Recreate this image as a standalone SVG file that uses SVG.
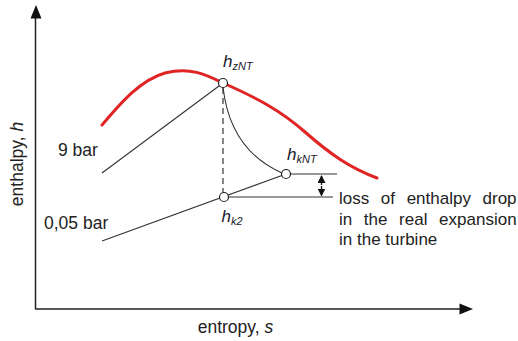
<svg xmlns="http://www.w3.org/2000/svg" width="518" height="341" viewBox="0 0 518 341">
<style>
.t{font-family:"Liberation Sans",Arial,sans-serif;fill:#222}
.lab{font-size:17.5px}
.r{font-size:17px;word-spacing:6.9px}
.h{font-family:"Liberation Sans",Arial,sans-serif;font-style:italic;fill:#1a1a2a;font-size:17px}
.sub{font-size:11px}
.thin{fill:none;stroke:#333;stroke-width:1.1}
.ax{fill:none;stroke:#222;stroke-width:1.5}
.pt{fill:#fff;stroke:#222;stroke-width:1.2}
</style>
<defs>
<marker id="ah" markerWidth="8" markerHeight="8" refX="7" refY="4" orient="auto" markerUnits="userSpaceOnUse">
<path d="M0,0 L8,4 L0,8 Z" fill="#111"/>
</marker>
</defs>
<g id="axes">
<line class="ax" x1="35.5" y1="309" x2="35.5" y2="16"/>
<path d="M30.5,18.5 L36,5 L41.5,18.5 Z" fill="#111"/>
<line class="ax" x1="35" y1="309" x2="461" y2="309"/>
<path d="M459.5,303.5 L473,309 L459.5,314.5 Z" fill="#111"/>
<text class="t lab" x="235.5" y="333" text-anchor="middle">entropy, <tspan font-style="italic">s</tspan></text>
<text class="t lab" transform="translate(22.5,164) rotate(-90)" text-anchor="middle">enthalpy, <tspan font-style="italic">h</tspan></text>
</g>
<g id="saturation">
<path d="M102,125 C120,104 140,80 165,73 C190,67 205,74 223,83 C255,97 280,110 305,132 C330,154 350,168 377,178" fill="none" stroke="#e02424" stroke-width="3" stroke-linecap="round"/>
</g>
<g id="connectors">
<line class="thin" x1="102" y1="173" x2="223" y2="83"/>
<line class="thin" x1="102" y1="241" x2="286" y2="174"/>
<line x1="223" y1="88" x2="223" y2="192" stroke="#333" stroke-width="1.2" stroke-dasharray="6,4"/>
<path class="thin" d="M223,87 Q230,150 282,173"/>
<line class="thin" x1="290" y1="174" x2="337" y2="174"/>
<line class="thin" x1="228" y1="197" x2="333" y2="197"/>
<line x1="321.5" y1="185" x2="321.5" y2="176" stroke="#111" stroke-width="1.3" marker-end="url(#ah)"/>
<line x1="321.5" y1="186" x2="321.5" y2="195.5" stroke="#111" stroke-width="1.3" marker-end="url(#ah)"/>
</g>
<g id="isobar-9">
<text class="t lab" x="58" y="156">9 bar</text>
</g>
<g id="isobar-005">
<text class="t lab" x="44" y="229">0,05 bar</text>
</g>
<g id="hzNT">
<circle class="pt" cx="223" cy="83" r="4.5"/>
<text class="h" x="223" y="66.5">h<tspan class="sub" dy="3">zNT</tspan></text>
</g>
<g id="hkNT">
<circle class="pt" cx="286" cy="174" r="4.5"/>
<text class="h" x="287" y="160">h<tspan class="sub" dy="3">kNT</tspan></text>
</g>
<g id="hk2">
<circle class="pt" cx="224" cy="197" r="4.5"/>
<text class="h" x="221.5" y="221.5">h<tspan class="sub" dy="3">k2</tspan></text>
</g>
<g id="loss-label">
<text class="t r" x="339" y="204">loss of enthalpy drop</text>
<text class="t r" x="339" y="224.5">in the real expansion</text>
<text class="t" font-size="17" x="339" y="245">in the turbine</text>
</g>
</svg>
